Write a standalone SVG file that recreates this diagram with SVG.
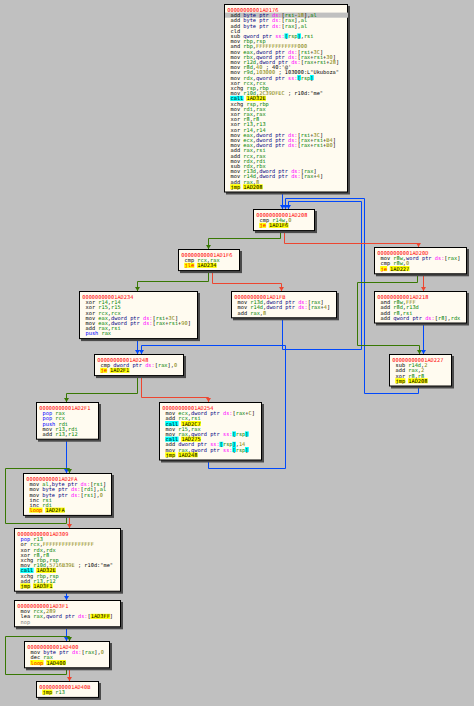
<svg xmlns="http://www.w3.org/2000/svg" width="474" height="706" viewBox="0 0 474 706">
<style>
text{font-family:"DejaVu Sans Mono","Liberation Mono",monospace;font-size:5.3px;fill:#000}
.a{fill:#ff0000}.r{fill:#008300}.v{fill:#828200}.z{fill:#000080}.s{fill:#ff00ff}.p{fill:#0000ff}.n{fill:#808080}.j{fill:#ff0000}
.bx{fill:#fffbf0;stroke:#000;stroke-width:1}.sh{fill:#4a4a4a}
.hy{fill:#ffff00}.hc{fill:#00ffff}.sel{fill:#c0c0c0}
.e{fill:none;stroke-width:1}.eb{stroke:#0148fb;marker-end:url(#mb)}.eg{stroke:#387804;marker-end:url(#mg)}.er{stroke:#ed4630;marker-end:url(#mr)}
</style>
<defs>
<marker id="mb" markerUnits="userSpaceOnUse" markerWidth="5" markerHeight="5" refX="4" refY="2.5" orient="auto"><path d="M0,0 L4,2.5 L0,5 z" fill="#0148fb"/></marker>
<marker id="mg" markerUnits="userSpaceOnUse" markerWidth="5" markerHeight="5" refX="4" refY="2.5" orient="auto"><path d="M0,0 L4,2.5 L0,5 z" fill="#387804"/></marker>
<marker id="mr" markerUnits="userSpaceOnUse" markerWidth="5" markerHeight="5" refX="4" refY="2.5" orient="auto"><path d="M0,0 L4,2.5 L0,5 z" fill="#ed4630"/></marker>
</defs>
<rect width="474" height="706" fill="#c0c0c0"/>

<g id="edges">
<path class="e eb" d="M282.5,192.5 V209"/>
<path class="e eb" d="M282.5,318.3 V349.5 H361.5 V201.5 H288.5 V209"/>
<path class="e eb" d="M418.5,386.5 V393.5 H364.5 V198.5 H285.5 V209"/>
<path class="e eg" d="M280.5,231.1 V238.5 H208.5 V249"/>
<path class="e er" d="M284.5,231.1 V243.5 H418.5 V247"/>
<path class="e eg" d="M208.5,271.1 V281.5 H137.5 V291"/>
<path class="e er" d="M212.5,271.1 V283.5 H281.5 V291"/>
<path class="e eg" d="M417.5,274.3 V282.5 H357.5 V345.5 H419.5 V354"/>
<path class="e er" d="M423.5,274.3 V291"/>
<path class="e eb" d="M423.5,323.5 V354"/>
<path class="e eb" d="M137.5,339.1 V354"/>
<path class="e eb" d="M208.5,460.5 V468.5 H285.5 V345.5 H141.5 V354"/>
<path class="e eg" d="M137.5,376.1 V393.5 H66.5 V402"/>
<path class="e er" d="M141.5,376.1 V397.5 H208.5 V402"/>
<path class="e eb" d="M66.5,439.7 V473"/>
<path class="e eg" d="M66.5,515.9 V523.5 H5.5 V468.5 H69.5 V473"/>
<path class="e er" d="M69.5,515.9 V528"/>
<path class="e eb" d="M66.5,591.7 V600"/>
<path class="e eb" d="M66.5,627.3 V641"/>
<path class="e eg" d="M66.5,668.3 V674.5 H5.5 V636.5 H69.5 V641"/>
<path class="e er" d="M69.5,668.3 V681"/>
</g>

<g id="n1AD176" transform="translate(224,4)">
<rect class="sh" x="2" y="2" width="124" height="188.5"/>
<rect class="bx" x="0.5" y="0.5" width="123" height="187.5"/>
<rect class="sel" x="1" y="8.6" width="123" height="5.1"/>
<rect class="hc" x="60.447" y="29.4" width="3.79" height="5.1"/><rect class="hc" x="73.211" y="29.4" width="3.79" height="5.1"/>
<rect class="hc" x="73.211" y="71.0" width="3.79" height="5.1"/><rect class="hc" x="85.975" y="71.0" width="3.79" height="5.1"/>
<rect class="hc" x="6.2" y="91.8" width="13.36" height="5.1"/><rect class="hy" x="22.155" y="91.8" width="19.746" height="5.1"/>
<rect class="hy" x="6.2" y="180.2" width="10.17" height="5.1"/><rect class="hy" x="18.964" y="180.2" width="19.746" height="5.1"/>
<text class="a" x="3.3" y="7.9">00000000001AD176</text>
<text x="6.5" y="13.1">add <tspan class="z">byte ptr</tspan> <tspan class="s">ds:</tspan>[<tspan class="r">rsi</tspan>-<tspan class="v">18</tspan>],<tspan class="r">al</tspan></text>
<text x="6.5" y="18.3">add <tspan class="z">byte ptr</tspan> <tspan class="s">ds:</tspan>[<tspan class="r">rax</tspan>],<tspan class="r">al</tspan></text>
<text x="6.5" y="23.5">add <tspan class="z">byte ptr</tspan> <tspan class="s">ds:</tspan>[<tspan class="r">rax</tspan>],<tspan class="r">al</tspan></text>
<text x="6.5" y="28.7">cld</text>
<text x="6.5" y="33.9">sub <tspan class="z">qword ptr</tspan> <tspan class="s">ss:</tspan>[<tspan class="r">rsp</tspan>],<tspan class="r">rsi</tspan></text>
<text x="6.5" y="39.1">mov <tspan class="r">rbp</tspan>,<tspan class="r">rsp</tspan></text>
<text x="6.5" y="44.3">and <tspan class="r">rbp</tspan>,<tspan class="v">FFFFFFFFFFFFF000</tspan></text>
<text x="6.5" y="49.5">mov <tspan class="r">eax</tspan>,<tspan class="z">dword ptr</tspan> <tspan class="s">ds:</tspan>[<tspan class="r">rsi</tspan>+<tspan class="v">3C</tspan>]</text>
<text x="6.5" y="54.7">mov <tspan class="r">rbx</tspan>,<tspan class="z">qword ptr</tspan> <tspan class="s">ds:</tspan>[<tspan class="r">rax</tspan>+<tspan class="r">rsi</tspan>+<tspan class="v">30</tspan>]</text>
<text x="6.5" y="59.9">mov <tspan class="r">r12d</tspan>,<tspan class="z">dword ptr</tspan> <tspan class="s">ds:</tspan>[<tspan class="r">rax</tspan>+<tspan class="r">rsi</tspan>+<tspan class="v">28</tspan>]</text>
<text x="6.5" y="65.1">mov <tspan class="r">r8d</tspan>,<tspan class="v">40</tspan> ; 40:'@'</text>
<text x="6.5" y="70.3">mov <tspan class="r">r9d</tspan>,<tspan class="v">103000</tspan> ; 103000:L"Ukuboza"</text>
<text x="6.5" y="75.5">mov <tspan class="r">rdx</tspan>,<tspan class="z">qword ptr</tspan> <tspan class="s">ss:</tspan>[<tspan class="r">rsp</tspan>]</text>
<text x="6.5" y="80.7">xor <tspan class="r">rcx</tspan>,<tspan class="r">rcx</tspan></text>
<text x="6.5" y="85.9">xchg <tspan class="r">rsp</tspan>,<tspan class="r">rbp</tspan></text>
<text x="6.5" y="91.1">mov <tspan class="r">r10d</tspan>,<tspan class="v">2C39DFEC</tspan> ; r10d:"me"</text>
<text x="6.5" y="96.3">call 1AD32E</text>
<text x="6.5" y="101.5">xchg <tspan class="r">rsp</tspan>,<tspan class="r">rbp</tspan></text>
<text x="6.5" y="106.7">mov <tspan class="r">rdi</tspan>,<tspan class="r">rax</tspan></text>
<text x="6.5" y="111.9">xor <tspan class="r">rax</tspan>,<tspan class="r">rax</tspan></text>
<text x="6.5" y="117.1">xor <tspan class="r">r8</tspan>,<tspan class="r">r8</tspan></text>
<text x="6.5" y="122.3">xor <tspan class="r">r13</tspan>,<tspan class="r">r13</tspan></text>
<text x="6.5" y="127.5">xor <tspan class="r">r14</tspan>,<tspan class="r">r14</tspan></text>
<text x="6.5" y="132.7">mov <tspan class="r">eax</tspan>,<tspan class="z">dword ptr</tspan> <tspan class="s">ds:</tspan>[<tspan class="r">rsi</tspan>+<tspan class="v">3C</tspan>]</text>
<text x="6.5" y="137.9">mov <tspan class="r">ecx</tspan>,<tspan class="z">dword ptr</tspan> <tspan class="s">ds:</tspan>[<tspan class="r">rax</tspan>+<tspan class="r">rsi</tspan>+<tspan class="v">B4</tspan>]</text>
<text x="6.5" y="143.1">mov <tspan class="r">eax</tspan>,<tspan class="z">dword ptr</tspan> <tspan class="s">ds:</tspan>[<tspan class="r">rax</tspan>+<tspan class="r">rsi</tspan>+<tspan class="v">B0</tspan>]</text>
<text x="6.5" y="148.3">add <tspan class="r">rax</tspan>,<tspan class="r">rsi</tspan></text>
<text x="6.5" y="153.5">add <tspan class="r">rcx</tspan>,<tspan class="r">rax</tspan></text>
<text x="6.5" y="158.7">mov <tspan class="r">rdx</tspan>,<tspan class="r">rdi</tspan></text>
<text x="6.5" y="163.9">sub <tspan class="r">rdx</tspan>,<tspan class="r">rbx</tspan></text>
<text x="6.5" y="169.1">mov <tspan class="r">r13d</tspan>,<tspan class="z">dword ptr</tspan> <tspan class="s">ds:</tspan>[<tspan class="r">rax</tspan>]</text>
<text x="6.5" y="174.3">mov <tspan class="r">r14d</tspan>,<tspan class="z">dword ptr</tspan> <tspan class="s">ds:</tspan>[<tspan class="r">rax</tspan>+<tspan class="v">4</tspan>]</text>
<text x="6.5" y="179.5">add <tspan class="r">rax</tspan>,<tspan class="v">8</tspan></text>
<text x="6.5" y="184.7">jmp 1AD208</text>
</g>

<g id="n1AD208" transform="translate(253,209)">
<rect class="sh" x="2" y="2" width="62" height="22.1"/>
<rect class="bx" x="0.5" y="0.5" width="61" height="21.1"/>
<rect class="hy" x="6.2" y="13.8" width="6.98" height="5.1"/><rect class="hy" x="15.773" y="13.8" width="19.746" height="5.1"/>
<text class="a" x="3.3" y="7.9">00000000001AD208</text>
<text x="6.5" y="13.1">cmp <tspan class="r">r14w</tspan>,<tspan class="v">0</tspan></text>
<text x="6.5" y="18.3"><tspan class="j">je</tspan> 1AD1F6</text>
</g>

<g id="n1AD1F6" transform="translate(178,249)">
<rect class="sh" x="2" y="2" width="62" height="22.1"/>
<rect class="bx" x="0.5" y="0.5" width="61" height="21.1"/>
<rect class="hy" x="6.2" y="13.8" width="10.17" height="5.1"/><rect class="hy" x="18.964" y="13.8" width="19.746" height="5.1"/>
<text class="a" x="3.3" y="7.9">00000000001AD1F6</text>
<text x="6.5" y="13.1">cmp <tspan class="r">rcx</tspan>,<tspan class="r">rax</tspan></text>
<text x="6.5" y="18.3"><tspan class="j">jle</tspan> 1AD234</text>
</g>

<g id="n1AD20D" transform="translate(374,247)">
<rect class="sh" x="2" y="2" width="93" height="27.3"/>
<rect class="bx" x="0.5" y="0.5" width="92" height="26.3"/>
<rect class="hy" x="6.2" y="19.0" width="6.98" height="5.1"/><rect class="hy" x="15.773" y="19.0" width="19.746" height="5.1"/>
<text class="a" x="3.3" y="7.9">00000000001AD20D</text>
<text x="6.5" y="13.1">mov <tspan class="r">r8w</tspan>,<tspan class="z">word ptr</tspan> <tspan class="s">ds:</tspan>[<tspan class="r">rax</tspan>]</text>
<text x="6.5" y="18.3">cmp <tspan class="r">r8w</tspan>,<tspan class="v">0</tspan></text>
<text x="6.5" y="23.5"><tspan class="j">je</tspan> 1AD227</text>
</g>

<g id="n1AD234" transform="translate(79,291)">
<rect class="sh" x="2" y="2" width="119" height="48.1"/>
<rect class="bx" x="0.5" y="0.5" width="118" height="47.1"/>
<text class="a" x="3.3" y="7.9">00000000001AD234</text>
<text x="6.5" y="13.1">xor <tspan class="r">r14</tspan>,<tspan class="r">r14</tspan></text>
<text x="6.5" y="18.3">xor <tspan class="r">r15</tspan>,<tspan class="r">r15</tspan></text>
<text x="6.5" y="23.5">xor <tspan class="r">rcx</tspan>,<tspan class="r">rcx</tspan></text>
<text x="6.5" y="28.7">mov <tspan class="r">eax</tspan>,<tspan class="z">dword ptr</tspan> <tspan class="s">ds:</tspan>[<tspan class="r">rsi</tspan>+<tspan class="v">3C</tspan>]</text>
<text x="6.5" y="33.9">mov <tspan class="r">eax</tspan>,<tspan class="z">dword ptr</tspan> <tspan class="s">ds:</tspan>[<tspan class="r">rax</tspan>+<tspan class="r">rsi</tspan>+<tspan class="v">90</tspan>]</text>
<text x="6.5" y="39.1">add <tspan class="r">rax</tspan>,<tspan class="r">rsi</tspan></text>
<text x="6.5" y="44.3"><tspan class="p">push</tspan> <tspan class="r">rax</tspan></text>
</g>

<g id="n1AD1FB" transform="translate(231,291)">
<rect class="sh" x="2" y="2" width="106" height="27.3"/>
<rect class="bx" x="0.5" y="0.5" width="105" height="26.3"/>
<text class="a" x="3.3" y="7.9">00000000001AD1FB</text>
<text x="6.5" y="13.1">mov <tspan class="r">r13d</tspan>,<tspan class="z">dword ptr</tspan> <tspan class="s">ds:</tspan>[<tspan class="r">rax</tspan>]</text>
<text x="6.5" y="18.3">mov <tspan class="r">r14d</tspan>,<tspan class="z">dword ptr</tspan> <tspan class="s">ds:</tspan>[<tspan class="r">rax</tspan>+<tspan class="v">4</tspan>]</text>
<text x="6.5" y="23.5">add <tspan class="r">rax</tspan>,<tspan class="v">8</tspan></text>
</g>

<g id="n1AD218" transform="translate(374,291)">
<rect class="sh" x="2" y="2" width="93" height="32.5"/>
<rect class="bx" x="0.5" y="0.5" width="92" height="31.5"/>
<text class="a" x="3.3" y="7.9">00000000001AD218</text>
<text x="6.5" y="13.1">and <tspan class="r">r8w</tspan>,<tspan class="v">FFF</tspan></text>
<text x="6.5" y="18.3">add <tspan class="r">r8d</tspan>,<tspan class="r">r13d</tspan></text>
<text x="6.5" y="23.5">add <tspan class="r">r8</tspan>,<tspan class="r">rsi</tspan></text>
<text x="6.5" y="28.7">add <tspan class="z">qword ptr</tspan> <tspan class="s">ds:</tspan>[<tspan class="r">r8</tspan>],<tspan class="r">rdx</tspan></text>
</g>

<g id="n1AD227" transform="translate(389,354)">
<rect class="sh" x="2" y="2" width="63" height="32.5"/>
<rect class="bx" x="0.5" y="0.5" width="62" height="31.5"/>
<rect class="hy" x="6.2" y="24.2" width="10.17" height="5.1"/><rect class="hy" x="18.964" y="24.2" width="19.746" height="5.1"/>
<text class="a" x="3.3" y="7.9">00000000001AD227</text>
<text x="6.5" y="13.1">sub <tspan class="r">r14d</tspan>,<tspan class="v">2</tspan></text>
<text x="6.5" y="18.3">add <tspan class="r">rax</tspan>,<tspan class="v">2</tspan></text>
<text x="6.5" y="23.5">xor <tspan class="r">r8</tspan>,<tspan class="r">r8</tspan></text>
<text x="6.5" y="28.7">jmp 1AD208</text>
</g>

<g id="n1AD248" transform="translate(94,354)">
<rect class="sh" x="2" y="2" width="90" height="22.1"/>
<rect class="bx" x="0.5" y="0.5" width="89" height="21.1"/>
<rect class="hy" x="6.2" y="13.8" width="6.98" height="5.1"/><rect class="hy" x="15.773" y="13.8" width="19.746" height="5.1"/>
<text class="a" x="3.3" y="7.9">00000000001AD248</text>
<text x="6.5" y="13.1">cmp <tspan class="z">dword ptr</tspan> <tspan class="s">ds:</tspan>[<tspan class="r">rax</tspan>],<tspan class="v">0</tspan></text>
<text x="6.5" y="18.3"><tspan class="j">je</tspan> 1AD2F1</text>
</g>

<g id="n1AD2F1" transform="translate(36,402)">
<rect class="sh" x="2" y="2" width="63" height="37.7"/>
<rect class="bx" x="0.5" y="0.5" width="62" height="36.7"/>
<text class="a" x="3.3" y="7.9">00000000001AD2F1</text>
<text x="6.5" y="13.1"><tspan class="p">pop</tspan> <tspan class="r">rax</tspan></text>
<text x="6.5" y="18.3"><tspan class="p">pop</tspan> <tspan class="r">rcx</tspan></text>
<text x="6.5" y="23.5"><tspan class="p">push</tspan> <tspan class="r">rdi</tspan></text>
<text x="6.5" y="28.7">mov <tspan class="r">r13</tspan>,<tspan class="r">rdi</tspan></text>
<text x="6.5" y="33.9">add <tspan class="r">r13</tspan>,<tspan class="r">r12</tspan></text>
</g>

<g id="n1AD254" transform="translate(159,402)">
<rect class="sh" x="2" y="2" width="103" height="58.5"/>
<rect class="bx" x="0.5" y="0.5" width="102" height="57.5"/>
<rect class="hc" x="6.2" y="19.0" width="13.36" height="5.1"/><rect class="hy" x="22.155" y="19.0" width="19.746" height="5.1"/>
<rect class="hc" x="73.211" y="29.4" width="3.79" height="5.1"/><rect class="hc" x="85.975" y="29.4" width="3.79" height="5.1"/>
<rect class="hc" x="6.2" y="34.6" width="13.36" height="5.1"/><rect class="hy" x="22.155" y="34.6" width="19.746" height="5.1"/>
<rect class="hc" x="60.447" y="39.8" width="3.79" height="5.1"/><rect class="hc" x="73.211" y="39.8" width="3.79" height="5.1"/>
<rect class="hc" x="73.211" y="45.0" width="3.79" height="5.1"/><rect class="hc" x="85.975" y="45.0" width="3.79" height="5.1"/>
<rect class="hy" x="6.2" y="50.2" width="10.17" height="5.1"/><rect class="hy" x="18.964" y="50.2" width="19.746" height="5.1"/>
<text class="a" x="3.3" y="7.9">00000000001AD254</text>
<text x="6.5" y="13.1">mov <tspan class="r">ecx</tspan>,<tspan class="z">dword ptr</tspan> <tspan class="s">ds:</tspan>[<tspan class="r">rax</tspan>+<tspan class="v">C</tspan>]</text>
<text x="6.5" y="18.3">add <tspan class="r">rcx</tspan>,<tspan class="r">rsi</tspan></text>
<text x="6.5" y="23.5">call 1AD2C7</text>
<text x="6.5" y="28.7">mov <tspan class="r">r15</tspan>,<tspan class="r">rax</tspan></text>
<text x="6.5" y="33.9">mov <tspan class="r">rax</tspan>,<tspan class="z">qword ptr</tspan> <tspan class="s">ss:</tspan>[<tspan class="r">rsp</tspan>]</text>
<text x="6.5" y="39.1">call 1AD275</text>
<text x="6.5" y="44.3">add <tspan class="z">dword ptr</tspan> <tspan class="s">ss:</tspan>[<tspan class="r">rsp</tspan>],<tspan class="v">14</tspan></text>
<text x="6.5" y="49.5">mov <tspan class="r">rax</tspan>,<tspan class="z">qword ptr</tspan> <tspan class="s">ss:</tspan>[<tspan class="r">rsp</tspan>]</text>
<text x="6.5" y="54.7">jmp 1AD248</text>
</g>

<g id="n1AD2FA" transform="translate(23,473)">
<rect class="sh" x="2" y="2" width="89" height="42.9"/>
<rect class="bx" x="0.5" y="0.5" width="88" height="41.9"/>
<rect class="hy" x="6.2" y="34.6" width="13.36" height="5.1"/><rect class="hy" x="22.155" y="34.6" width="19.746" height="5.1"/>
<text class="a" x="3.3" y="7.9">00000000001AD2FA</text>
<text x="6.5" y="13.1">mov <tspan class="r">al</tspan>,<tspan class="z">byte ptr</tspan> <tspan class="s">ds:</tspan>[<tspan class="r">rsi</tspan>]</text>
<text x="6.5" y="18.3">mov <tspan class="z">byte ptr</tspan> <tspan class="s">ds:</tspan>[<tspan class="r">rdi</tspan>],<tspan class="r">al</tspan></text>
<text x="6.5" y="23.5">mov <tspan class="z">byte ptr</tspan> <tspan class="s">ds:</tspan>[<tspan class="r">rsi</tspan>],<tspan class="v">0</tspan></text>
<text x="6.5" y="28.7">inc <tspan class="r">rsi</tspan></text>
<text x="6.5" y="33.9">inc <tspan class="r">rdi</tspan></text>
<text x="6.5" y="39.1"><tspan class="j">loop</tspan> 1AD2FA</text>
</g>

<g id="n1AD309" transform="translate(14,528)">
<rect class="sh" x="2" y="2" width="107" height="63.7"/>
<rect class="bx" x="0.5" y="0.5" width="106" height="62.7"/>
<rect class="hc" x="6.2" y="39.8" width="13.36" height="5.1"/><rect class="hy" x="22.155" y="39.8" width="19.746" height="5.1"/>
<rect class="hy" x="6.2" y="55.4" width="10.17" height="5.1"/><rect class="hy" x="18.964" y="55.4" width="19.746" height="5.1"/>
<text class="a" x="3.3" y="7.9">00000000001AD309</text>
<text x="6.5" y="13.1"><tspan class="p">pop</tspan> <tspan class="r">r13</tspan></text>
<text x="6.5" y="18.3">or <tspan class="r">rcx</tspan>,<tspan class="v">FFFFFFFFFFFFFFFF</tspan></text>
<text x="6.5" y="23.5">xor <tspan class="r">rdx</tspan>,<tspan class="r">rdx</tspan></text>
<text x="6.5" y="28.7">xor <tspan class="r">r8</tspan>,<tspan class="r">r8</tspan></text>
<text x="6.5" y="33.9">xchg <tspan class="r">rbp</tspan>,<tspan class="r">rsp</tspan></text>
<text x="6.5" y="39.1">mov <tspan class="r">r10d</tspan>,<tspan class="v">5716B39E</tspan> ; r10d:"me"</text>
<text x="6.5" y="44.3">call 1AD32E</text>
<text x="6.5" y="49.5">xchg <tspan class="r">rbp</tspan>,<tspan class="r">rsp</tspan></text>
<text x="6.5" y="54.7">add <tspan class="r">r13</tspan>,<tspan class="r">r12</tspan></text>
<text x="6.5" y="59.9">jmp 1AD3F1</text>
</g>

<g id="n1AD3F1" transform="translate(14,600)">
<rect class="sh" x="2" y="2" width="107" height="27.3"/>
<rect class="bx" x="0.5" y="0.5" width="106" height="26.3"/>
<rect class="hy" x="76.402" y="13.8" width="19.746" height="5.1"/>
<text class="a" x="3.3" y="7.9">00000000001AD3F1</text>
<text x="6.5" y="13.1">mov <tspan class="r">rcx</tspan>,<tspan class="v">289</tspan></text>
<text x="6.5" y="18.3">lea <tspan class="r">rax</tspan>,<tspan class="z">qword ptr</tspan> <tspan class="s">ds:</tspan>[1AD3FF]</text>
<text x="6.5" y="23.5"><tspan class="n">nop</tspan></text>
</g>

<g id="n1AD400" transform="translate(24,641)">
<rect class="sh" x="2" y="2" width="86" height="27.3"/>
<rect class="bx" x="0.5" y="0.5" width="85" height="26.3"/>
<rect class="hy" x="6.2" y="19.0" width="13.36" height="5.1"/><rect class="hy" x="22.155" y="19.0" width="19.746" height="5.1"/>
<text class="a" x="3.3" y="7.9">00000000001AD400</text>
<text x="6.5" y="13.1">mov <tspan class="z">byte ptr</tspan> <tspan class="s">ds:</tspan>[<tspan class="r">rax</tspan>],<tspan class="v">0</tspan></text>
<text x="6.5" y="18.3">dec <tspan class="r">rax</tspan></text>
<text x="6.5" y="23.5"><tspan class="j">loop</tspan> 1AD400</text>
</g>

<g id="n1AD40B" transform="translate(36,681)">
<rect class="sh" x="2" y="2" width="63" height="16.9"/>
<rect class="bx" x="0.5" y="0.5" width="62" height="15.9"/>
<rect class="hy" x="6.2" y="8.6" width="10.17" height="5.1"/>
<text class="a" x="3.3" y="7.9">00000000001AD40B</text>
<text x="6.5" y="13.1">jmp <tspan class="r">r13</tspan></text>
</g>
</svg>
